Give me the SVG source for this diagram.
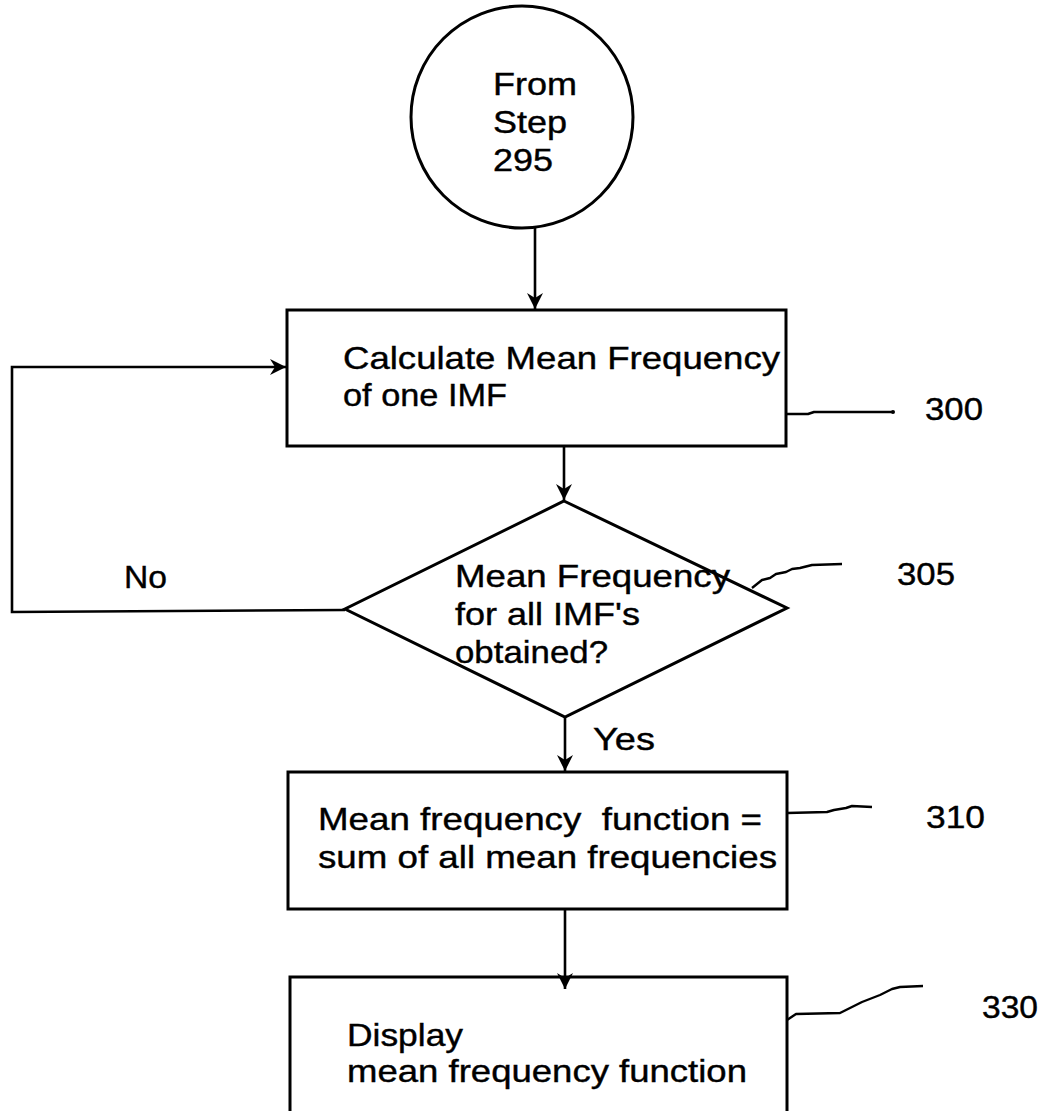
<svg xmlns="http://www.w3.org/2000/svg" width="1048" height="1111" viewBox="0 0 1048 1111">
<style>
  .shape { fill: #fff; stroke: #000; stroke-width: 3; }
  .conn { fill: none; stroke: #000; stroke-width: 2.6; }
  .lead { fill: none; stroke: #000; stroke-width: 2.4; stroke-linejoin: round; }
  .t { font-family: "Liberation Sans", Arial, sans-serif; font-size: 32px; fill: #000; stroke: #000; stroke-width: 0.4; white-space: pre; }
</style>
<defs>
  <marker id="arr" markerUnits="userSpaceOnUse" markerWidth="20" markerHeight="20" viewBox="-18 -9 20 18" refX="0" refY="0" orient="auto">
    <path d="M0,0 L-16,-8 L-11,0 L-16,8 Z" fill="#000"/>
  </marker>
</defs>
<rect width="1048" height="1111" fill="#fff"/>

<g id="start">
  <circle class="shape" cx="522" cy="117" r="111"/>
  <text class="t" x="493" y="95" textLength="84" lengthAdjust="spacingAndGlyphs">From</text>
  <text class="t" x="493" y="133" textLength="74" lengthAdjust="spacingAndGlyphs">Step</text>
  <text class="t" x="493" y="171" textLength="60" lengthAdjust="spacingAndGlyphs">295</text>
</g>

<g id="step300">
  <rect class="shape" x="287" y="310" width="499" height="136"/>
  <text class="t" x="343" y="369" textLength="437" lengthAdjust="spacingAndGlyphs">Calculate Mean Frequency</text>
  <text class="t" x="343" y="406" textLength="164" lengthAdjust="spacingAndGlyphs">of one IMF</text>
  <polyline class="lead" points="786,414 808,414 814,412 893,412"/>
  <circle cx="893" cy="412" r="2" fill="#000"/>
  <text class="t" x="925" y="420" textLength="58" lengthAdjust="spacingAndGlyphs">300</text>
</g>

<g id="step305">
  <polygon class="shape" points="564,501 787,608 565,717 345,609"/>
  <text class="t" x="455" y="587" textLength="275" lengthAdjust="spacingAndGlyphs">Mean Frequency</text>
  <text class="t" x="455" y="625" textLength="185" lengthAdjust="spacingAndGlyphs">for all IMF's</text>
  <text class="t" x="455" y="663" textLength="153" lengthAdjust="spacingAndGlyphs">obtained?</text>
  <polyline class="lead" points="752,588 762,580 770,578 776,574 786,572 792,569 800,568 812,565 842,564"/>
  <text class="t" x="897" y="585" textLength="58" lengthAdjust="spacingAndGlyphs">305</text>
</g>

<g id="step310">
  <rect class="shape" x="288" y="772" width="499" height="137"/>
  <text class="t" x="318" y="830" textLength="444" lengthAdjust="spacingAndGlyphs">Mean frequency  function =</text>
  <text class="t" x="318" y="868" textLength="459" lengthAdjust="spacingAndGlyphs">sum of all mean frequencies</text>
  <polyline class="lead" points="787,813 827,812 834,810 846,808 852,806 872,807"/>
  <text class="t" x="926" y="828" textLength="59" lengthAdjust="spacingAndGlyphs">310</text>
</g>

<g id="step330">
  <rect class="shape" x="290" y="977" width="497" height="150"/>
  <text class="t" x="347" y="1046" textLength="116" lengthAdjust="spacingAndGlyphs">Display</text>
  <text class="t" x="347" y="1082" textLength="400" lengthAdjust="spacingAndGlyphs">mean frequency function</text>
  <polyline class="lead" points="787,1020 796,1014 840,1013 862,1002 880,995 892,989 900,987 923,986"/>
  <text class="t" x="982" y="1018" textLength="56" lengthAdjust="spacingAndGlyphs">330</text>
</g>

<g id="connectors">
  <line class="conn" x1="535" y1="228" x2="535" y2="309" marker-end="url(#arr)"/>
  <line class="conn" x1="564" y1="446" x2="564" y2="500" marker-end="url(#arr)"/>
  <polyline class="conn" points="345,610 12,612 12,367 286,367" marker-end="url(#arr)"/>
  <line class="conn" x1="565" y1="717" x2="565" y2="771" marker-end="url(#arr)"/>
  <line class="conn" x1="565" y1="909" x2="565" y2="989" marker-end="url(#arr)"/>
  <text class="t" x="124" y="588" textLength="43" lengthAdjust="spacingAndGlyphs">No</text>
  <text class="t" x="593" y="750" textLength="62" lengthAdjust="spacingAndGlyphs">Yes</text>
</g>
</svg>
